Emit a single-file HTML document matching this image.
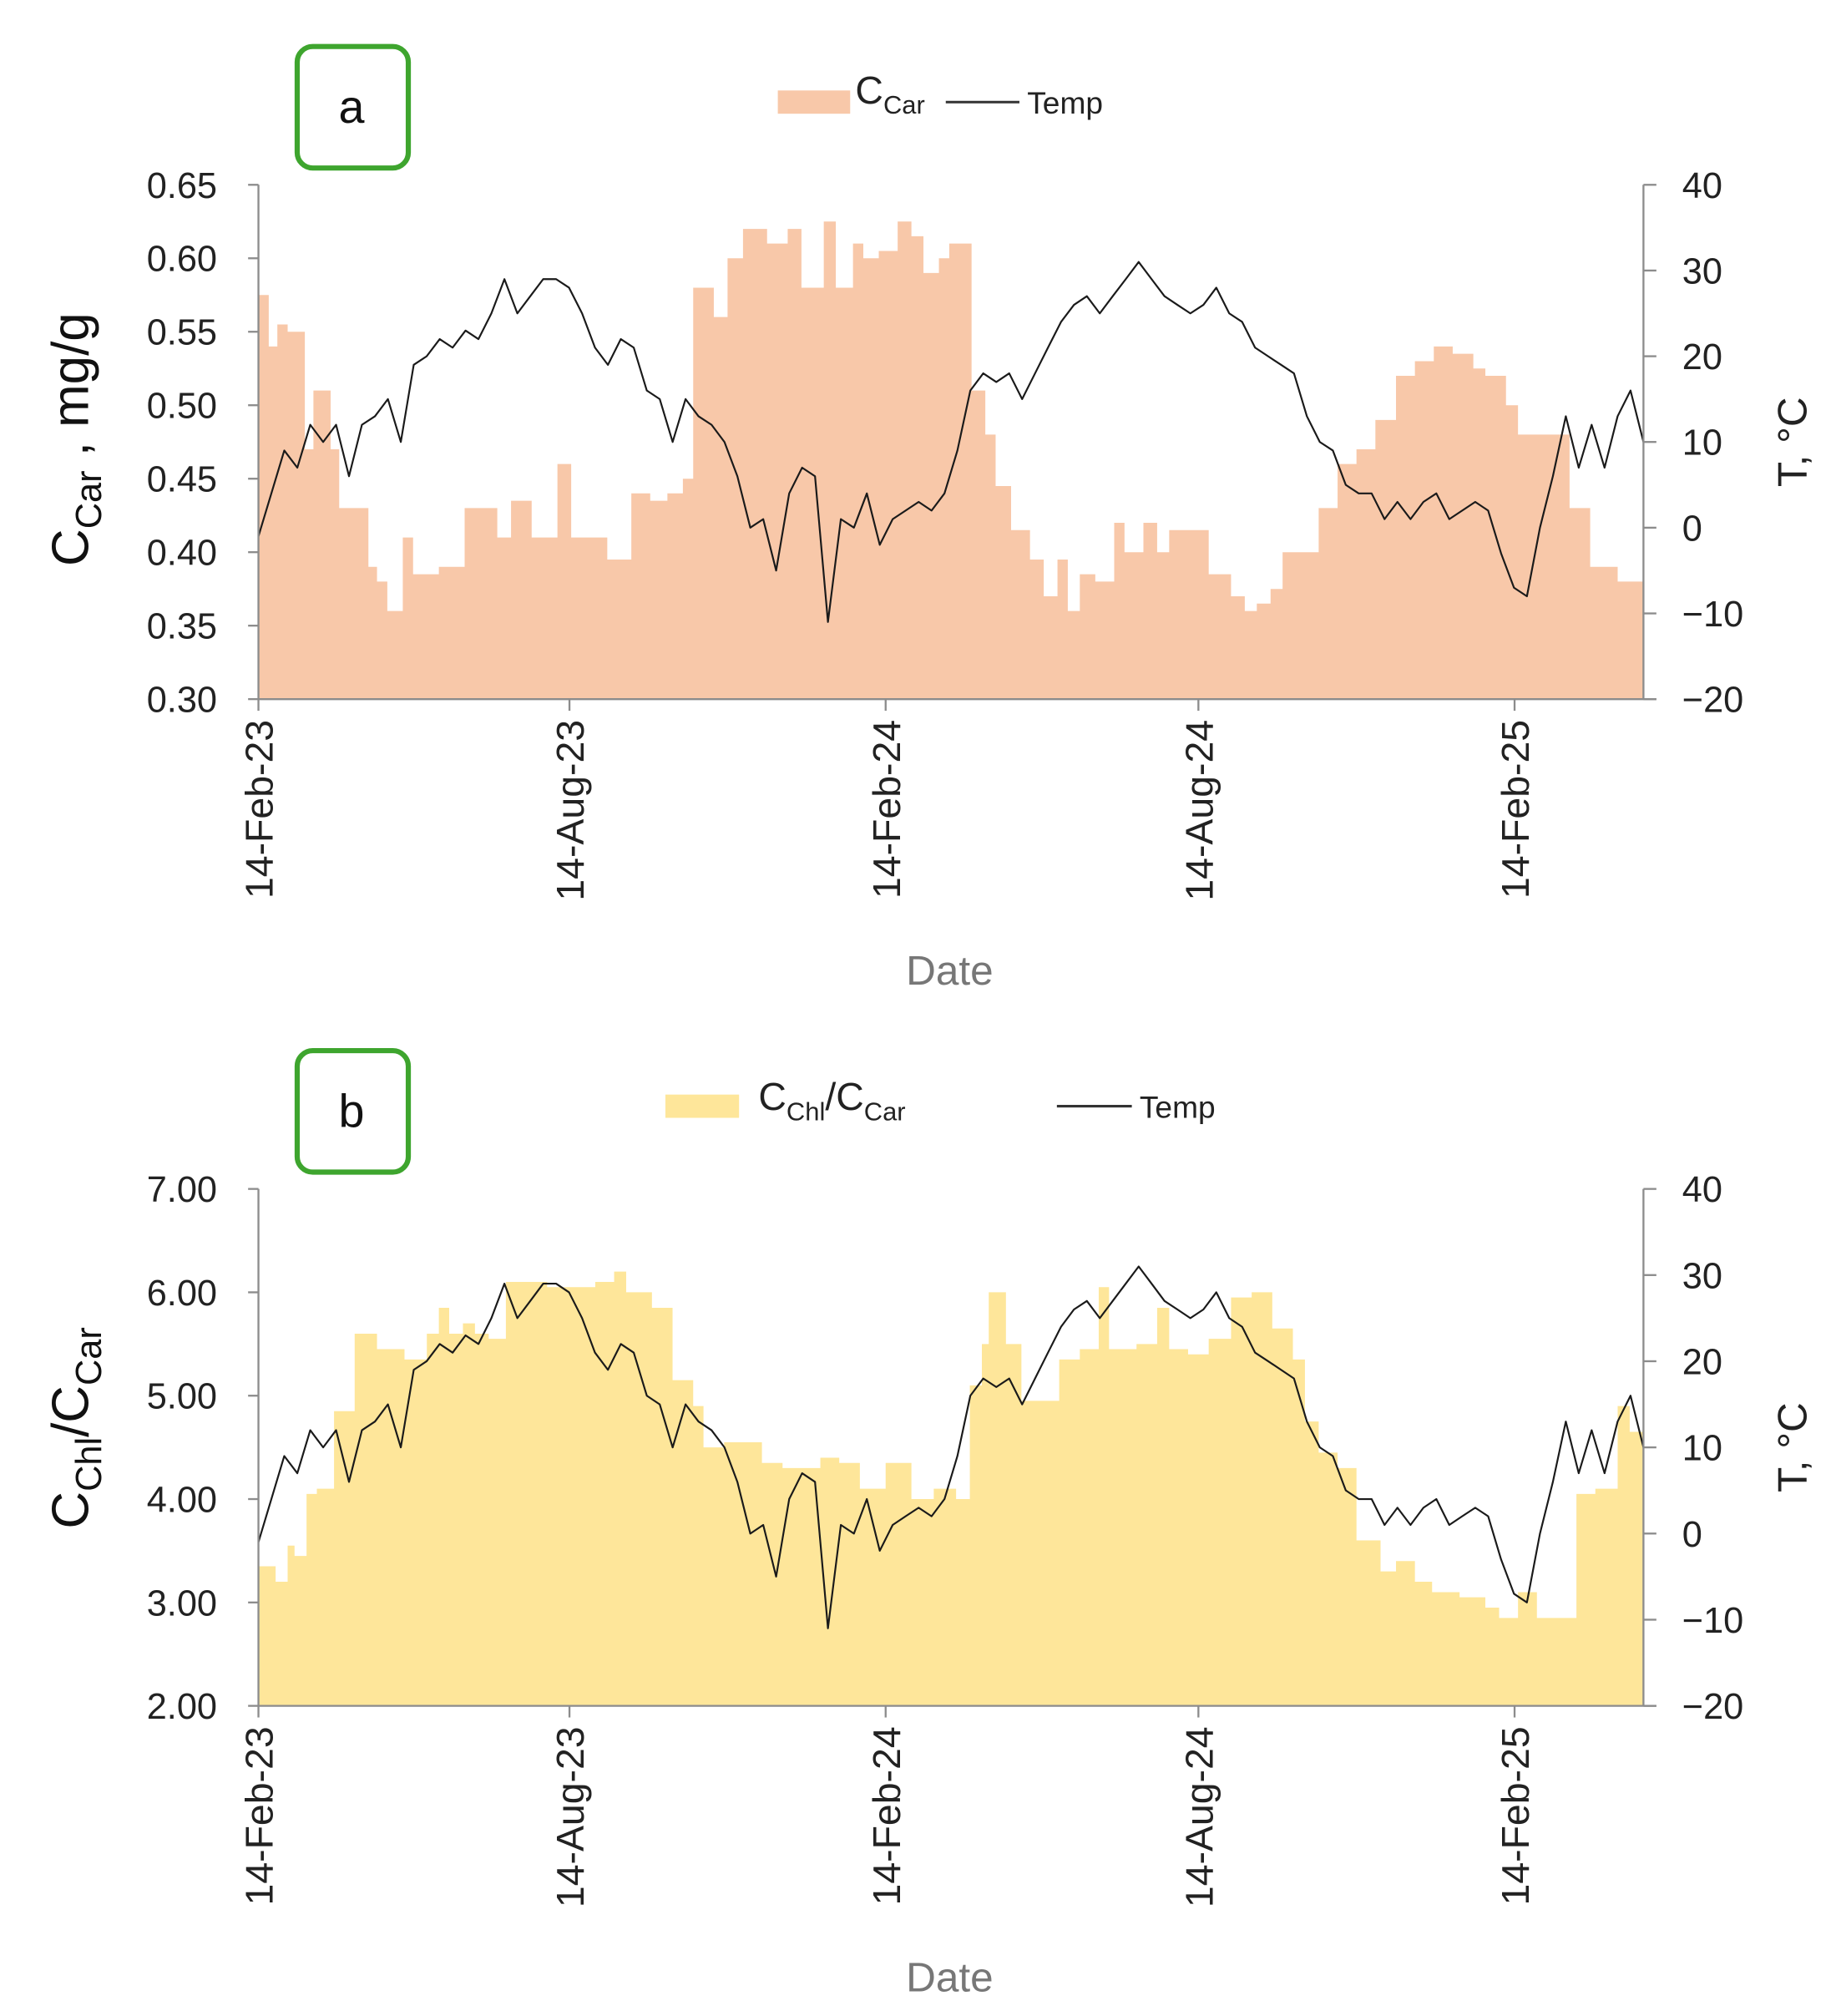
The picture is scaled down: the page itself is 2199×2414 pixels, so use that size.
<!DOCTYPE html>
<html><head><meta charset="utf-8"><style>
html,body{margin:0;padding:0;background:#fff;}
svg{display:block;font-family:"Liberation Sans",sans-serif;}
</style></head><body>
<svg id="fig" width="2199" height="2414" viewBox="0 0 1421 1560" xmlns="http://www.w3.org/2000/svg"></svg>
<script>
// ---- data ----
const xTickDays = [0, 181, 365, 547, 731];
const xTickLabels = ["14-Feb-23", "14-Aug-23", "14-Feb-24", "14-Aug-24", "14-Feb-25"];
const endDay = 806;
const carDays = [0,6,11,17,27,32,42,47,64,69,75,84,90,105,120,126,139,147,159,174,182,203,217,228,238,247,253,265,273,282,296,308,316,329,336,346,352,361,372,380,387,396,402,415,423,429,438,449,457,465,471,478,487,498,504,515,523,530,553,566,574,581,589,596,617,628,639,650,662,673,684,695,707,714,726,733,752,763,775,791];
const carVals = [0.575,0.54,0.555,0.55,0.47,0.51,0.47,0.43,0.39,0.38,0.36,0.41,0.385,0.39,0.43,0.43,0.41,0.435,0.41,0.46,0.41,0.395,0.44,0.435,0.44,0.45,0.58,0.56,0.60,0.62,0.61,0.62,0.58,0.625,0.58,0.61,0.60,0.605,0.625,0.615,0.59,0.60,0.61,0.51,0.48,0.445,0.415,0.395,0.37,0.395,0.36,0.385,0.38,0.42,0.40,0.42,0.40,0.415,0.385,0.37,0.36,0.365,0.375,0.40,0.43,0.46,0.47,0.49,0.52,0.53,0.54,0.535,0.525,0.52,0.50,0.48,0.48,0.43,0.39,0.38];
const ratioDays = [0,10,17,21,28,34,44,56,69,85,98,105,111,119,126,134,144,168,196,207,214,229,241,253,259,271,293,305,327,338,350,365,380,393,406,414,421,425,435,444,466,478,489,495,511,523,530,541,553,566,578,590,602,609,617,628,639,653,662,673,683,699,714,722,733,744,767,778,791,798];
const ratioVals = [3.35,3.2,3.55,3.45,4.05,4.1,4.85,5.6,5.45,5.35,5.6,5.85,5.6,5.7,5.6,5.55,6.1,6.05,6.1,6.2,6.0,5.85,5.15,4.9,4.5,4.55,4.35,4.3,4.4,4.35,4.1,4.35,4.0,4.1,4.0,5.1,5.5,6.0,5.5,4.95,5.35,5.45,6.05,5.45,5.5,5.85,5.45,5.4,5.55,5.95,6.0,5.65,5.35,4.75,4.45,4.3,3.6,3.3,3.4,3.2,3.1,3.05,2.95,2.85,3.1,2.85,4.05,4.1,4.9,4.65];
const tempVals = [-1,4,9,7,12,10,12,6,12,13,15,10,19,20,22,21,23,22,25,29,25,27,29,29,28,25,21,19,22,21,16,15,10,15,13,12,10,6,0,1,-5,4,7,6,-11,1,0,4,-2,1,2,3,2,4,9,16,18,17,18,15,18,21,24,26,27,25,27,29,31,29,27,26,25,26,28,25,24,21,20,19,18,13,10,9,5,4,4,1,3,1,3,4,1,2,3,2,-3,-7,-8,0,6,13,7,12,7,13,16,10];
const carTicks = ["0.30","0.35","0.40","0.45","0.50","0.55","0.60","0.65"];
const ratioTicks = ["2.00","3.00","4.00","5.00","6.00","7.00"];
const tempTicks = [-20,-10,0,10,20,30,40];

const NS = "http://www.w3.org/2000/svg";
const svg = document.getElementById("fig");
function el(tag, attrs, parent, text) {
  const e = document.createElementNS(NS, tag);
  for (const k in attrs) e.setAttribute(k, attrs[k]);
  if (text !== undefined) e.textContent = text;
  (parent || svg).appendChild(e);
  return e;
}
const X0 = 200, X1 = 1272;
const xs = d => X0 + (X1 - X0) * d / endDay;

function panel(cfg) {
  const g = el("g", {});
  
  
  const yL = v => cfg.bot - (cfg.bot - cfg.top) * (v - cfg.min) / (cfg.max - cfg.min);
  const yT = t => cfg.bot - (cfg.bot - cfg.top) * (t + 20) / 60;
  let d = "M" + xs(0) + "," + cfg.bot;
  for (let i = 0; i < cfg.days.length; i++) {
    const x0 = xs(cfg.days[i]), x1 = xs(i + 1 < cfg.days.length ? cfg.days[i + 1] : endDay);
    d += " L" + x0 + "," + yL(cfg.vals[i]) + " L" + x1 + "," + yL(cfg.vals[i]);
  }
  d += " L" + xs(endDay) + "," + cfg.bot + " Z";
  const area = el("path", {d: d, fill: cfg.color}, g);
  
  
  const step = endDay / (tempVals.length - 1);
  const pts = tempVals.map((t, i) => xs(i * step).toFixed(1) + "," + yT(t).toFixed(1)).join(" ");
  const line = el("polyline", {points: pts, fill: "none", stroke: "#1a1a1a", "stroke-width": 1.4, "stroke-linejoin": "round"}, g);
  
  
  el("line", {x1: X0, y1: cfg.top, x2: X0, y2: cfg.bot, stroke: "#8c8c8c", "stroke-width": 1.5}, g);
  el("line", {x1: X1, y1: cfg.top, x2: X1, y2: cfg.bot, stroke: "#8c8c8c", "stroke-width": 1.5}, g);
  el("line", {x1: X0, y1: cfg.bot, x2: X1 + 10, y2: cfg.bot, stroke: "#8c8c8c", "stroke-width": 1.5}, g);
  cfg.ticks.forEach(t => {
    const y = yL(parseFloat(t));
    el("line", {x1: X0 - 8, y1: y, x2: X0, y2: y, stroke: "#8c8c8c", "stroke-width": 1.5}, g);
    const tx = el("text", {x: 168, y: y + 10, "text-anchor": "end", "font-size": 28, fill: "#222"}, g, t);
    
    
  });
  tempTicks.forEach(t => {
    const y = yT(t);
    el("line", {x1: X1, y1: y, x2: X1 + 10, y2: y, stroke: "#8c8c8c", "stroke-width": 1.5}, g);
    const tx = el("text", {x: 1302, y: y + 10, "font-size": 28, fill: "#222"}, g, t < 0 ? "\u2212" + (-t) : String(t));
    
    
  });
  xTickDays.forEach((dd, i) => {
    const x = xs(dd);
    el("line", {x1: x, y1: cfg.bot, x2: x, y2: cfg.bot + 9, stroke: "#8c8c8c", "stroke-width": 1.5}, g);
    const tx = el("text", {x: 0, y: 0, "text-anchor": "end", "font-size": 30, fill: "#222",
      transform: "translate(" + (x + 11) + "," + (cfg.bot + 16) + ") rotate(-90)"}, g, xTickLabels[i]);
    
    
  });
  const dt = el("text", {x: 735, y: cfg.bot + 221, "text-anchor": "middle", "font-size": 32, fill: "#777"}, g, "Date");
  
  
  const rt = el("text", {x: 0, y: 0, "text-anchor": "middle", "font-size": 32, fill: "#222",
    transform: "translate(1398," + ((cfg.top + cfg.bot) / 2) + ") rotate(-90)"}, g, "T, \u00B0C");
  
  
  const bx = el("rect", {x: 230, y: cfg.top - 107, width: 86, height: 94, rx: 12, fill: "#fff", stroke: "#3ea52e", "stroke-width": 4}, g);
  
  
  const bl = el("text", {x: 272, y: cfg.top - 48, "text-anchor": "middle", "font-size": 36, fill: "#111"}, g, cfg.letter);
  
  
  return {g, yL};
}

const pa = panel({name: "panel-a", areaName: "ccar-area", top: 143, bot: 541, min: 0.30, max: 0.65, days: carDays, vals: carVals, color: "#f8c8a9", ticks: carTicks, letter: "a"});
const la = el("g", {}, pa.g);


el("rect", {x: 602, y: 70, width: 56, height: 18, fill: "#f8c8a9"}, la);
const lt1 = el("text", {x: 662, y: 80, "font-size": 30, fill: "#222"}, la);
lt1.innerHTML = 'C<tspan font-size="20" dy="8">Car</tspan>';
el("line", {x1: 732, y1: 79, x2: 789, y2: 79, stroke: "#333", "stroke-width": 2}, la);
el("text", {x: 795, y: 88, "font-size": 24, fill: "#222"}, la, "Temp");
const yta = el("text", {x: 0, y: 0, "text-anchor": "middle", "font-size": 40, fill: "#111", transform: "translate(68,340) rotate(-90)"}, pa.g);
yta.innerHTML = 'C<tspan font-size="28" dy="10">Car</tspan><tspan dy="-10"> , mg/g</tspan>';



const pb = panel({name: "panel-b", areaName: "ratio-area", top: 920, bot: 1320, min: 2, max: 7, days: ratioDays, vals: ratioVals, color: "#fee69a", ticks: ratioTicks, letter: "b"});
const lb = el("g", {}, pb.g);


el("rect", {x: 515, y: 847, width: 57, height: 18, fill: "#fee69a"}, lb);
const lt2 = el("text", {x: 587, y: 859, "font-size": 30, fill: "#222"}, lb);
lt2.innerHTML = 'C<tspan font-size="20" dy="8">Chl</tspan><tspan dy="-8">/C</tspan><tspan font-size="20" dy="8">Car</tspan>';
el("line", {x1: 818, y1: 856, x2: 876, y2: 856, stroke: "#333", "stroke-width": 2}, lb);
el("text", {x: 882, y: 865, "font-size": 24, fill: "#222"}, lb, "Temp");
const ytb = el("text", {x: 0, y: 0, "text-anchor": "middle", "font-size": 40, fill: "#111", transform: "translate(68,1105) rotate(-90)"}, pb.g);
ytb.innerHTML = 'C<tspan font-size="28" dy="10">Chl</tspan><tspan dy="-10">/C</tspan><tspan font-size="28" dy="10">Car</tspan>';


</script>
</body></html>
